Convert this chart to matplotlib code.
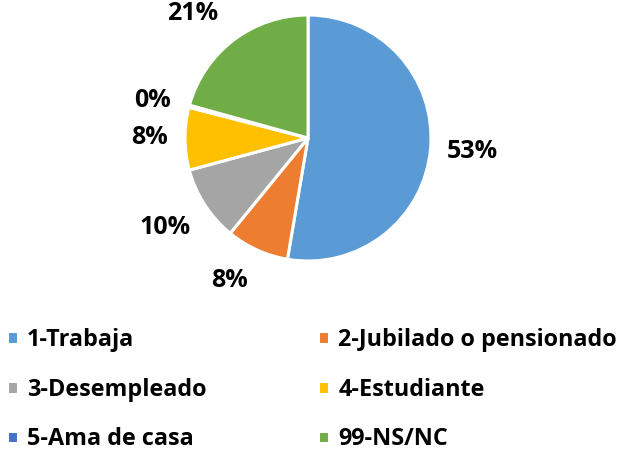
import numpy as np
import matplotlib.pyplot as plt

categories = ['1-Trabaja', '2-Jubilado o pensionado', '3-Desempleado',
              '4-Estudiante', '5-Ama de casa', '99-NS/NC']
values = [53.2, 8.3, 10.0, 8.3, 0.3, 20.9]
pct_labels = ['53%', '8%', '10%', '8%', '0%', '21%']
colors = ['#5B9BD5', '#ED7D31', '#A5A5A5', '#FFC000', '#4472C4', '#70AD47']

plt.rcParams['font.family'] = ['Open Sans', 'DejaVu Sans']
plt.rcParams['font.weight'] = 'bold'

fig = plt.figure(figsize=(6.26, 4.51), dpi=100)
W, H = 626, 451
cx, cy, r = 308, 138, 123
ax = fig.add_axes([(cx - r) / W, (H - cy - r) / H, 2 * r / W, 2 * r / H])

wedges, _ = ax.pie(values, colors=colors, startangle=90, counterclock=False,
                   radius=1, wedgeprops=dict(edgecolor='white', linewidth=2.2))
ax.set_xlim(-1, 1)
ax.set_ylim(-1, 1)
ax.set_aspect('equal')

# label positions: distance from center (in radii) and extra angle shift
label_dist = [1.34, 1.32, 1.37, 1.29, 1.30, 1.38]
angle_shift = [0, -4.5, -1, -0.5, 1.5, 5.5]
for w, lab, d, sh in zip(wedges, pct_labels, label_dist, angle_shift):
    ang = np.deg2rad((w.theta1 + w.theta2) / 2 + sh)
    ax.text(d * np.cos(ang), d * np.sin(ang), lab, ha='center', va='center',
            fontsize=18, fontweight='bold', clip_on=False)

order = [0, 2, 4, 1, 3, 5]
fig.legend([wedges[i] for i in order], [categories[i] for i in order],
           ncol=2, loc='upper left', bbox_to_anchor=(7 / W, 1 - 328 / H),
           borderpad=0, borderaxespad=0,
           frameon=False, prop=dict(size=16.8, weight='bold'),
           handlelength=0.45, handleheight=0.45, handletextpad=0.4,
           columnspacing=4.8, labelspacing=1.1)

fig.savefig('out.png', dpi=100)
